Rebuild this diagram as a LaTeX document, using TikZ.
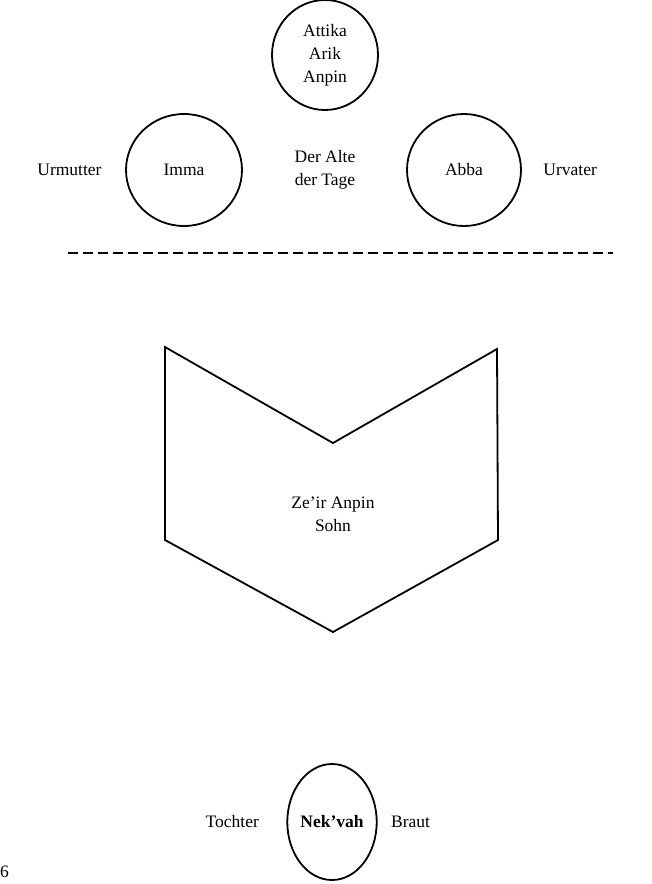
\documentclass[tikz,border=0pt]{standalone}
\usepackage{fontspec}
\setmainfont{Liberation Serif}
\usetikzlibrary{positioning, shapes.geometric}

\begin{document}
\begin{tikzpicture}[
                x=1pt, y=-1pt,
                node distance=12pt,
                font=\fontsize{17.5}{23}\selectfont,
                kreis/.style={draw, ellipse, line width=1.8pt, inner sep=0pt, align=center},
                beschrift/.style={align=center},
                trenner/.style={line width=2pt, dash pattern=on 10pt off 5pt}
            ]
                \useasboundingbox (0,0) rectangle (651,884);

                % Obere Kreise
                \node[kreis, minimum width=106pt, minimum height=110pt] (attika) at (325,55) {Attika\\Arik\\Anpin};
                \node[kreis, minimum width=116pt, minimum height=112pt] (imma) at (184,170) {Imma};
                \node[kreis, minimum width=114pt, minimum height=112pt] (abba) at (464,170) {Abba};
                \node[beschrift] (alte) at (325,170) {Der Alte\\der Tage};
                \node[beschrift] (urmutter) [left=20pt of imma] {Urmutter};
                \node[beschrift] (urvater) [right=18pt of abba] {Urvater};

                % Trennlinie
                \draw[trenner] (68,253) -- (613,253);

                % Sohn
                \draw[line width=1.8pt, line join=miter]
                    (165,347) -- (333,443) -- (497,349) -- (498,540)
                    -- (333,632) -- (165,540) -- cycle;
                \node[beschrift] (zeir) at (333,514) {Ze'ir Anpin\\Sohn};

                % Unterer Kreis
                \node[kreis, minimum width=86pt, minimum height=116pt, font=\fontsize{17.5}{23}\selectfont\bfseries] (nekvah) at (332,822) {Nek'vah};
                \node[beschrift] (tochter) [left=24pt of nekvah] {Tochter};
                \node[beschrift] (braut) [right=10pt of nekvah] {Braut};

                \node[anchor=west, inner sep=0pt] (seite) at (0,872) {6};
            \end{tikzpicture}
\end{document}
